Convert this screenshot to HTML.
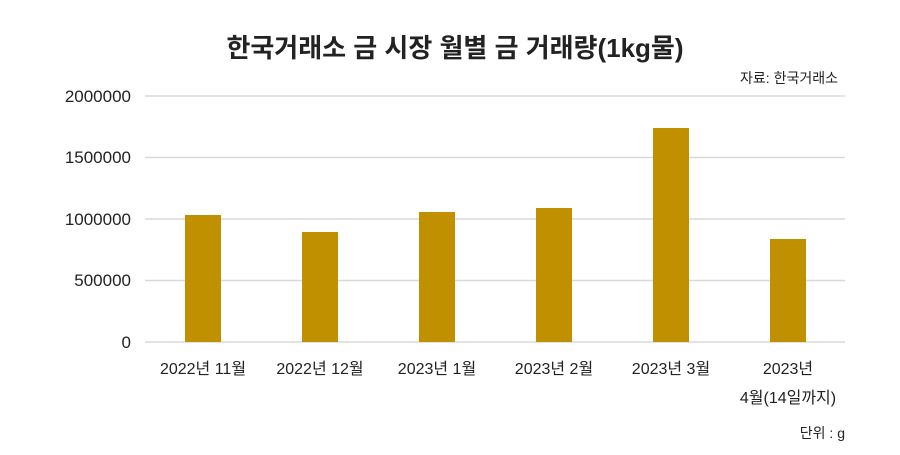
<!DOCTYPE html>
<html><head><meta charset="utf-8"><style>
body{margin:0;background:#fff;}
svg text{font-family:"Liberation Sans","Noto Sans CJK KR",sans-serif;fill:#222;}
</style></head><body>
<svg width="900" height="450" xmlns="http://www.w3.org/2000/svg">
<rect width="900" height="450" fill="#fff"/>
<text x="455" y="57" font-size="26" font-weight="bold" text-anchor="middle">한국거래소 금 시장 월별 금 거래량(1kg물)</text>
<text x="838" y="83" font-size="14" text-anchor="end">자료: 한국거래소</text>
<g stroke="#d9d9d9" stroke-width="1.5">
<line x1="145" x2="845" y1="96" y2="96"/>
<line x1="145" x2="845" y1="157.5" y2="157.5"/>
<line x1="145" x2="845" y1="219" y2="219"/>
<line x1="145" x2="845" y1="280.5" y2="280.5"/>
<line x1="145" x2="845" y1="342" y2="342"/>
</g>
<g font-size="17" text-anchor="end">
<text x="131" y="102">2000000</text>
<text x="131" y="163">1500000</text>
<text x="131" y="225">1000000</text>
<text x="131" y="286">500000</text>
<text x="131" y="348">0</text>
</g>
<g fill="#C09000">
<rect x="185" y="215" width="36" height="127"/>
<rect x="302" y="232" width="36" height="110"/>
<rect x="419" y="212" width="36" height="130"/>
<rect x="536" y="208" width="36" height="134"/>
<rect x="653" y="128" width="36" height="214"/>
<rect x="770" y="239" width="36" height="103"/>
</g>
<g font-size="16" text-anchor="middle">
<text x="203" y="374">2022년 11월</text>
<text x="320" y="374">2022년 12월</text>
<text x="437" y="374">2023년 1월</text>
<text x="554" y="374">2023년 2월</text>
<text x="671" y="374">2023년 3월</text>
<text x="788" y="374">2023년</text>
<text x="788" y="403">4월(14일까지)</text>
</g>
<text x="845" y="438" font-size="14" text-anchor="end">단위 : g</text>
</svg>
</body></html>
